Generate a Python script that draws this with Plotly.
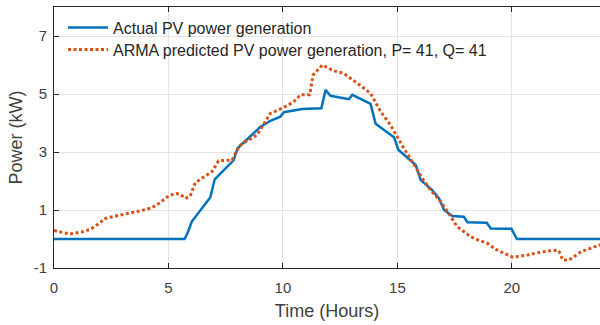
import plotly.graph_objects as go

# Actual PV power generation (hours, kW)
actual_t = [0, 5.7, 5.83, 6.02, 6.83, 7.02, 7.85, 8.02, 9.02, 9.45, 9.89, 10.04, 10.84, 11.68,
            11.86, 12.08, 12.88, 13.03, 13.83, 14.05, 14.85, 15.04, 15.8, 16.02, 16.5, 16.82,
            17.04, 17.4, 17.9, 18.06, 18.9, 19.08, 19.98, 20.22, 24]
actual_p = [0, 0, 0.2, 0.6, 1.44, 2.06, 2.72, 3.13, 3.87, 4.07, 4.22, 4.37, 4.48, 4.51,
            5.14, 4.94, 4.82, 4.97, 4.66, 3.97, 3.51, 3.08, 2.55, 2.03, 1.7, 1.4,
            1.0, 0.79, 0.77, 0.58, 0.56, 0.36, 0.35, 0.0, 0.0]

# ARMA predicted PV power generation
pred_t = [0, 0.35, 0.7, 1.2, 1.58, 2.01, 2.2, 2.45, 3.18, 3.76, 4.2, 4.49, 5.0, 5.3, 5.5,
          5.73, 5.95, 6.17, 6.53, 6.9, 7.19, 7.5, 7.78, 7.92, 8.14, 8.87, 9.23, 9.45, 10.04,
          10.47, 10.77, 11.17, 11.32, 11.72, 12.22, 12.66, 13.1, 13.83, 14.27, 14.7, 15.2,
          15.72, 16.09, 16.45, 16.89, 17.19, 17.62, 18.2, 18.5, 18.94, 19.3, 20.05, 20.69,
          21.34, 22.0, 22.07, 22.22, 22.51, 23.02, 23.82, 24]
pred_p = [0.29, 0.22, 0.17, 0.24, 0.33, 0.56, 0.7, 0.75, 0.86, 0.97, 1.06, 1.17, 1.48, 1.57, 1.55,
          1.4, 1.48, 1.94, 2.13, 2.32, 2.7, 2.72, 2.72, 2.95, 3.24, 3.59, 4.05, 4.33, 4.54,
          4.73, 4.97, 4.97, 5.66, 6.0, 5.8, 5.71, 5.46, 5.02, 4.39, 3.93, 3.24,
          2.55, 2.09, 1.69, 1.29, 0.94, 0.42, 0.08, -0.03, -0.15, -0.36, -0.63, -0.55,
          -0.44, -0.38, -0.44, -0.72, -0.72, -0.44, -0.21, -0.17]

x_ticks = [0, 5, 10, 15, 20]
y_ticks = [-1, 1, 3, 5, 7]

ink = "#262626"
label_ink = "#404040"
font = "Liberation Sans, Arial, sans-serif"

fig = go.Figure()
fig.add_trace(go.Scatter(x=actual_t, y=actual_p, mode="lines",
                         name="Actual PV power generation", legend="legend",
                         line=dict(color="#0072BD", width=2.5)))
fig.add_trace(go.Scatter(x=pred_t, y=pred_p, mode="lines",
                         name="ARMA predicted PV power generation, P= 41, Q= 41", legend="legend2",
                         line=dict(color="#D95319", width=3, dash="3px,2.5px")))

leg_common = dict(xanchor="left", yanchor="top", bgcolor="rgba(0,0,0,0)", borderwidth=0,
                  font=dict(size=16, color=ink, family=font), itemwidth=40)
fig.update_layout(
    width=600, height=325,
    margin=dict(l=54, r=0, t=7, b=57),
    paper_bgcolor="white", plot_bgcolor="white",
    font=dict(family=font, color=ink),
    legend=dict(x=0.0165, y=0.986, **leg_common),
    legend2=dict(x=0.0165, y=0.902, **leg_common),
    showlegend=True,
)
fig.update_xaxes(range=[0, 23.85], tickvals=x_ticks, ticktext=[str(v) for v in x_ticks],
                 showgrid=True, gridcolor="#E3E3E3", gridwidth=1, zeroline=False,
                 showline=True, linecolor=ink, linewidth=1, mirror="ticks",
                 ticks="inside", ticklen=5, tickcolor=ink, ticklabelstandoff=6,
                 tickfont=dict(size=15, color=label_ink),
                 title=dict(text="Time (Hours)", font=dict(size=18, color=label_ink), standoff=9))
fig.update_yaxes(range=[-1, 8], tickvals=y_ticks, ticktext=[str(v) for v in y_ticks],
                 showgrid=True, gridcolor="#E3E3E3", gridwidth=1, zeroline=False,
                 showline=True, linecolor=ink, linewidth=1,
                 ticks="inside", ticklen=5, tickcolor=ink, ticklabelstandoff=3,
                 tickfont=dict(size=15, color=label_ink),
                 title=dict(text="Power (kW)", font=dict(size=18, color=label_ink), standoff=6))

fig.write_html("out.html")
